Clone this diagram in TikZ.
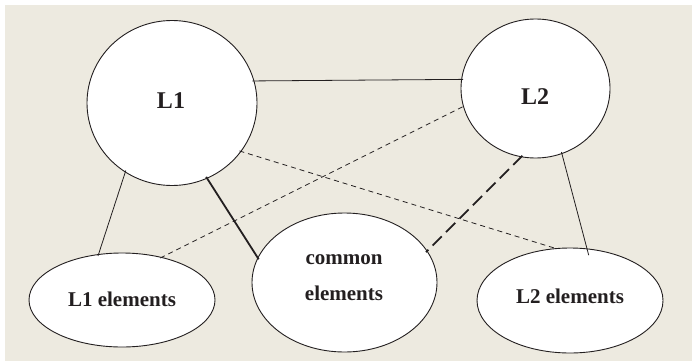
\documentclass[tikz,border=0pt]{standalone}
\usepackage{fontspec}
\setmainfont{Liberation Serif}
\usetikzlibrary{shapes.geometric}
\definecolor{paper}{RGB}{237,234,224}
\definecolor{ink}{RGB}{35,31,32}
\begin{document}
\begin{tikzpicture}[x=1pt,y=-1pt,
  bubble/.style={ellipse, draw=ink, line width=0.9pt, fill=white, inner sep=0pt},
  lbl/.style={text=ink, align=center, inner sep=0pt},
  big/.style={lbl, font=\bfseries\fontsize{24}{28}\selectfont},
  small/.style={lbl, font=\bfseries\fontsize{21}{36}\selectfont},
  link/.style={draw=ink, line width=0.8pt, shorten <=-2pt, shorten >=-2pt},
  fine dash/.style={dash pattern=on 5pt off 4pt},
  heavy dash/.style={line width=1.8pt, dash pattern=on 13pt off 6pt},
  heavy/.style={line width=1.8pt}]
\useasboundingbox (0,0) rectangle (692,361);
\fill[paper] (5,5) rectangle (692,361);

% the five sets
\node[bubble, minimum width=170pt, minimum height=165pt] (L1)  at (172,103)   {};
\node[bubble, minimum width=149pt, minimum height=139pt] (L2)  at (535.5,88.5) {};
\node[bubble, minimum width=186pt, minimum height=94pt]  (L1e) at (122,300)   {};
\node[bubble, minimum width=185pt, minimum height=139pt] (CE)  at (344.5,282.5) {};
\node[bubble, minimum width=186pt, minimum height=105pt] (L2e) at (570,300.5) {};

% their names
\node[big]   (L1t)  at (171,101) {L1};
\node[big]   (L2t)  at (535,97)  {L2};
\node[small] (L1et) at (122,299) {L1 elements};
\node[small] (CEt)  at (344,278) {common\\elements};
\node[small] (L2et) at (570,296) {L2 elements};

% relations
\draw[link] (L1.15) -- (L2.173);
\draw[link] (L1.236) -- (L1e.117);
\draw[link, heavy] (L1.295) -- (CE.164);
\draw[link, fine dash] (L1.325) -- (L2e.106);
\draw[link, fine dash] (L1e.47) -- (L2.194);
\draw[link, heavy dash] (L2.258) -- (CE.21);
\draw[link, shorten >=-7pt] (L2.292) -- (L2e.72);
\end{tikzpicture}
\end{document}
